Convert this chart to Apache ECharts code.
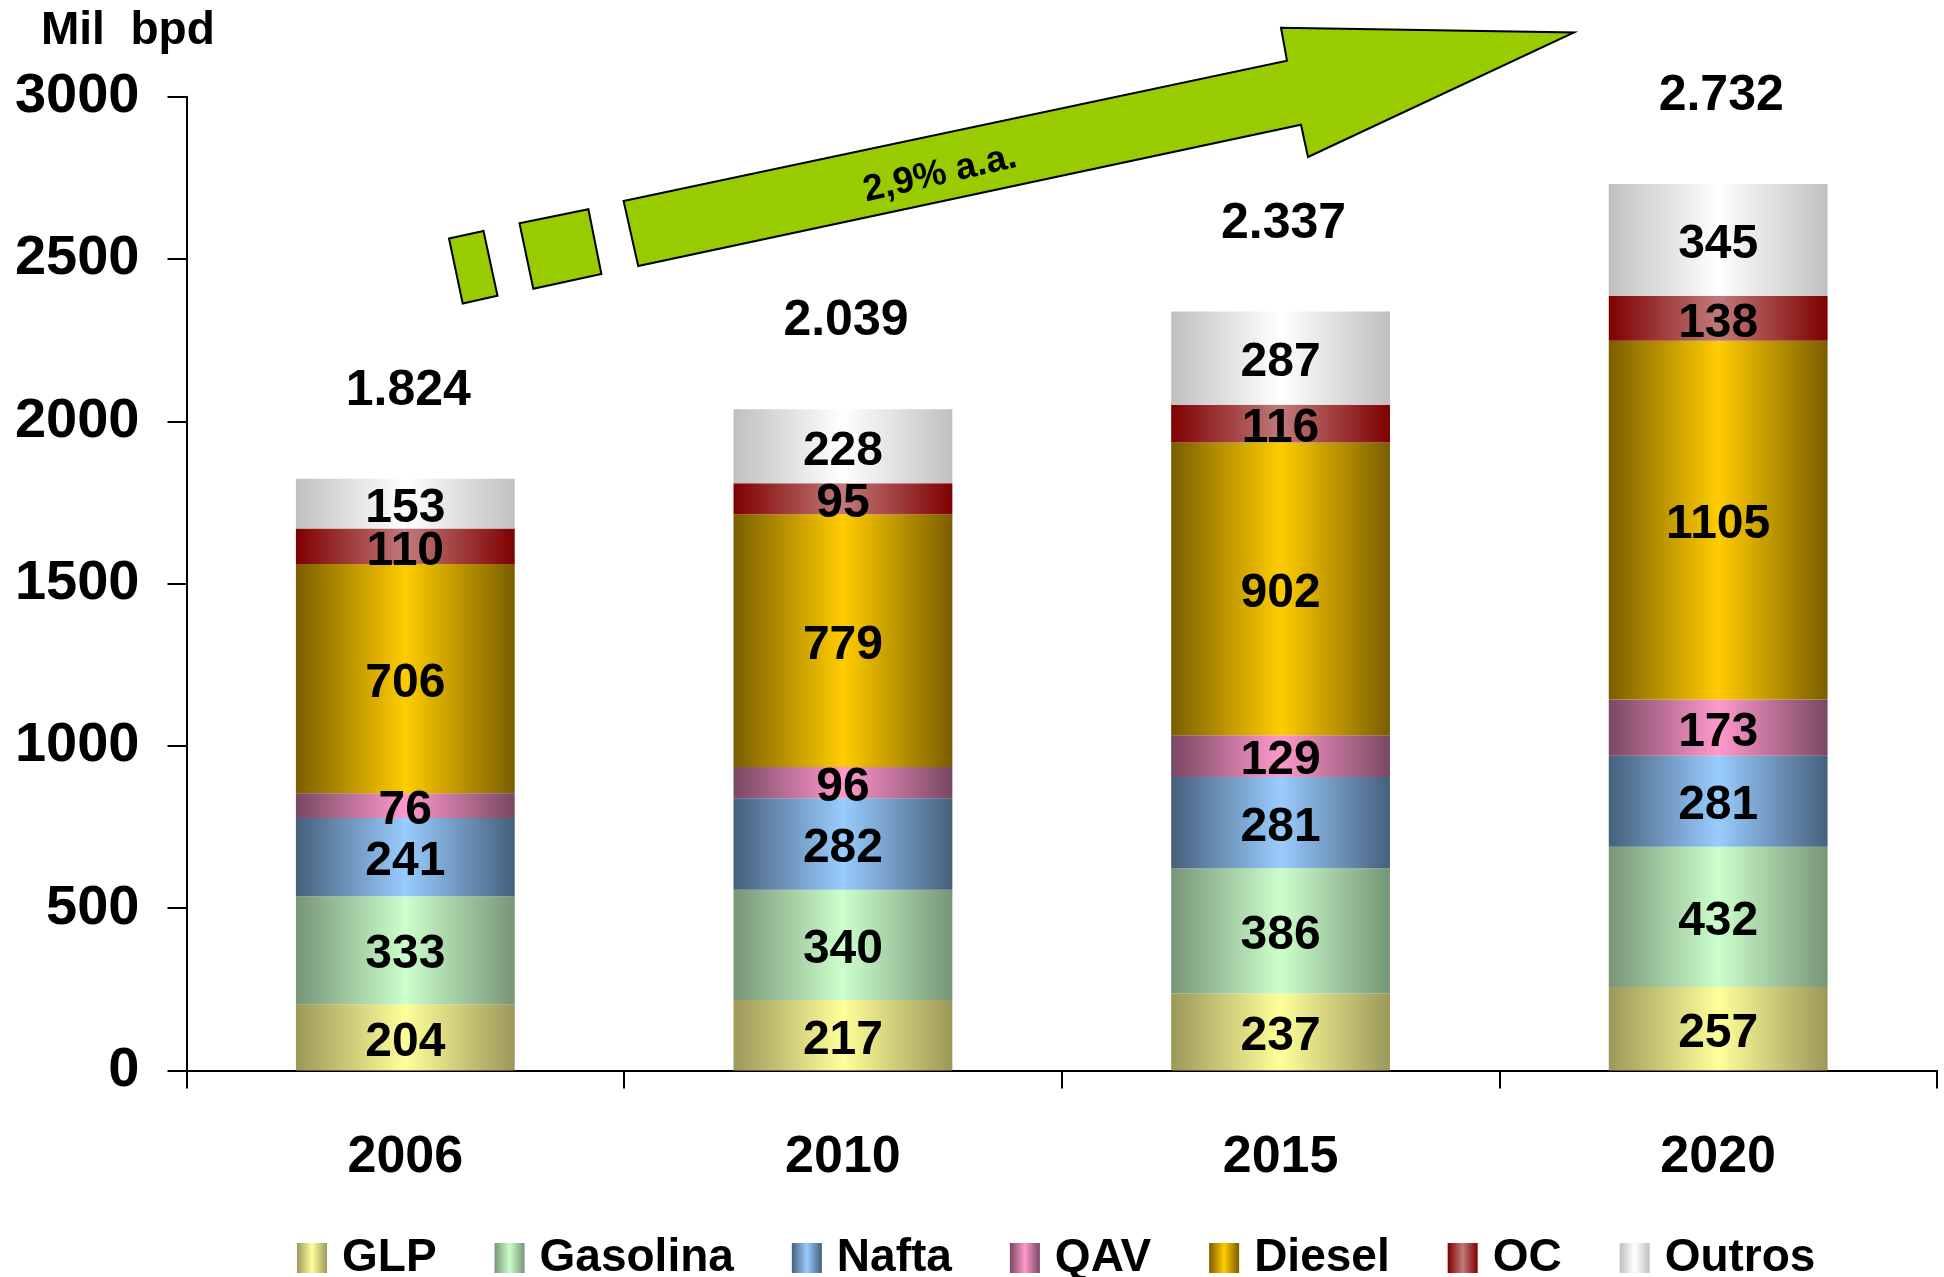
<!DOCTYPE html>
<html>
<head>
<meta charset="utf-8">
<script src="https://cdn.jsdelivr.net/npm/echarts@6/dist/echarts.min.js"></script>
<style>
  html, body { margin: 0; padding: 0; background: #fff; }
  #chart { width: 1944px; height: 1277px; }
</style>
</head>
<body>
<div id="chart"></div>
<script>
// categorias (anos)
var years = ['2006', '2010', '2015', '2020'];

// derivados, Mil bpd
var glp      = [204, 217, 237, 257];
var gasolina = [333, 340, 386, 432];
var nafta    = [241, 282, 281, 281];
var qav      = [76, 96, 129, 173];
var diesel   = [706, 779, 902, 1105];
var oc       = [110, 95, 116, 138];
var outros   = [153, 228, 287, 345];

// totais no topo
var totals      = [1824, 2039, 2337, 2732];
var totalLabels = ['1.824', '2.039', '2.337', '2.732'];

var yTicks = [0, 500, 1000, 1500, 2000, 2500, 3000];

var FONT = '"Liberation Sans", Arial, sans-serif';

// gradiente horizontal: escuro nas bordas, claro no centro
function grad(edge, mid) {
    return new echarts.graphic.LinearGradient(0, 0, 1, 0, [
        {offset: 0, color: edge},
        {offset: 0.5, color: mid},
        {offset: 1, color: edge}
    ]);
}

function seg(name, data, edge, mid) {
    return {
        name: name,
        type: 'bar',
        stack: 'total',
        barWidth: '50%',
        data: data,
        itemStyle: {color: grad(edge, mid)},
        label: {
            show: true,
            position: 'inside',
            offset: [0, 5],
            color: '#000',
            fontFamily: FONT,
            fontWeight: 'bold',
            fontSize: 48
        }
    };
}

var chart = echarts.init(document.getElementById('chart'), null, {renderer: 'canvas'});

var option = {
    animation: false,
    backgroundColor: '#fff',
    grid: {left: 186.5, right: 7, top: 96.7, bottom: 206.5},
    legend: {
        data: ['GLP', 'Gasolina', 'Nafta', 'QAV', 'Diesel', 'OC', 'Outros'],
        left: 297,
        top: 1235,
        padding: 0,
        itemGap: 58,
        itemWidth: 30,
        itemHeight: 30,
        icon: 'rect',
        textStyle: {
            color: '#000',
            fontFamily: FONT,
            fontWeight: 'bold',
            fontSize: 46,
            lineHeight: 46,
            padding: [0, 0, 0, 10]
        }
    },
    xAxis: {
        type: 'category',
        data: years,
        axisLine: {lineStyle: {color: '#000', width: 2}},
        axisTick: {show: true, length: 18, lineStyle: {color: '#000', width: 2}},
        axisLabel: {
            color: '#000',
            fontFamily: FONT,
            fontWeight: 'bold',
            fontSize: 52,
            lineHeight: 52,
            margin: 61
        },
        splitLine: {show: false}
    },
    yAxis: {
        type: 'value',
        min: yTicks[0],
        max: yTicks[yTicks.length - 1],
        interval: 500,
        axisLine: {show: true, lineStyle: {color: '#000', width: 2}},
        axisTick: {show: true, length: 19, lineStyle: {color: '#000', width: 2}},
        axisLabel: {
            color: '#000',
            fontFamily: FONT,
            fontWeight: 'bold',
            fontSize: 56,
            margin: 47,
            formatter: function (v) { return String(v); }
        },
        splitLine: {show: false}
    },
    series: [
        seg('GLP', glp, '#9c985a', '#ffff99'),
        seg('Gasolina', gasolina, '#779577', '#ccffcc'),
        seg('Nafta', nafta, '#46607c', '#99ccff'),
        seg('QAV', qav, '#784862', '#ff99cc'),
        seg('Diesel', diesel, '#7a5e00', '#ffcc00'),
        seg('OC', oc, '#7f0000', '#c07a7a'),
        seg('Outros', outros, '#c0c0c0', '#ffffff'),
        {
            name: 'Total',
            type: 'scatter',
            data: totals,
            symbolSize: 1,
            itemStyle: {color: 'rgba(0,0,0,0)', opacity: 1},
            label: {
                show: true,
                position: 'top',
                distance: 62,
                offset: [3, 0],
                color: '#000',
                opacity: 1,
                fontFamily: FONT,
                fontWeight: 'bold',
                fontSize: 50,
                lineHeight: 50,
                formatter: function (p) { return totalLabels[p.dataIndex]; }
            }
        }
    ],
    graphic: [
        {
            type: 'text',
            left: 41,
            top: 8,
            style: {
                text: 'Mil  bpd',
                fill: '#000',
                font: 'bold 46px ' + FONT
            }
        },
        // seta de crescimento
        {
            type: 'polygon',
            shape: {points: [[449, 238.5], [483.5, 231], [497.5, 295.7], [462.7, 303.5]]},
            style: {fill: '#99cc00', stroke: '#000', lineWidth: 2}
        },
        {
            type: 'polygon',
            shape: {points: [[519.5, 223.3], [588.4, 209.3], [601.4, 274], [533.3, 288.7]]},
            style: {fill: '#99cc00', stroke: '#000', lineWidth: 2}
        },
        {
            type: 'polygon',
            shape: {points: [[623.6, 201], [1287, 60.7], [1281, 27.7], [1574, 32.5],
                             [1308, 157], [1301, 124.7], [638.2, 266]]},
            style: {fill: '#99cc00', stroke: '#000', lineWidth: 2}
        },
        {
            type: 'text',
            x: 940,
            y: 174,
            rotation: 13 * Math.PI / 180,
            style: {
                text: '2,9% a.a.',
                fill: '#000',
                font: 'bold 37px ' + FONT,
                align: 'center',
                verticalAlign: 'middle'
            }
        }
    ]
};

chart.setOption(option);
</script>
</body>
</html>
